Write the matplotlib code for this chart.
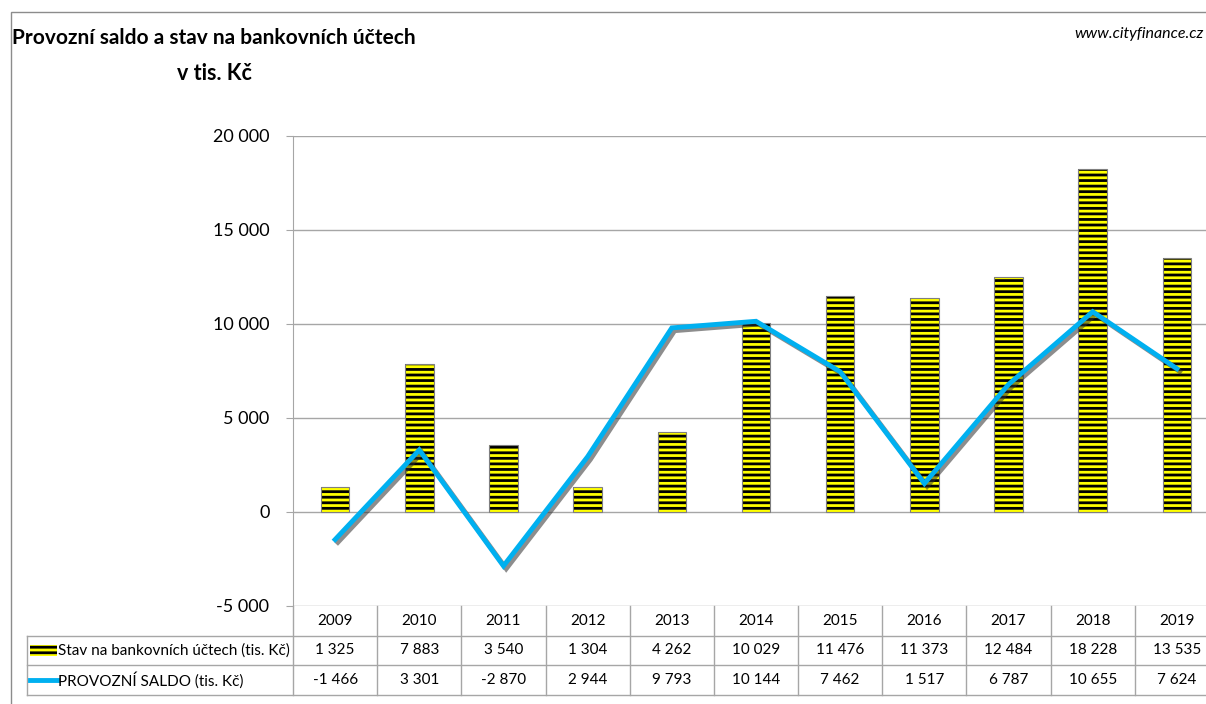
import matplotlib
matplotlib.use("Agg")
import matplotlib.pyplot as plt
import matplotlib.patheffects as pe
from matplotlib.patches import Rectangle
from matplotlib.ticker import FuncFormatter

years = ["2009", "2010", "2011", "2012", "2013", "2014", "2015", "2016", "2017", "2018", "2019"]
stav_uctu = [1325, 7883, 3540, 1304, 4262, 10029, 11476, 11373, 12484, 18228, 13535]
provozni_saldo = [-1466, 3301, -2870, 2944, 9793, 10144, 7462, 1517, 6787, 10655, 7624]
row_labels = ["Stav na bankovních účtech (tis. Kč)", "PROVOZNÍ SALDO (tis. Kč)"]

YELLOW = "#ffff00"
BLUE = "#00b0f0"
GRID = "#a6a6a6"

plt.rcParams["font.family"] = ["Lato", "DejaVu Sans"]
plt.rcParams["hatch.linewidth"] = 2.0

W, H = 1206, 704
fig = plt.figure(figsize=(W / 100, H / 100), dpi=100)

def fx(px):
    return px / W

def fy(py):
    return 1 - py / H

def fmt(v):
    return f"{int(v):,}".replace(",", " ")

# plot area in pixels (right edge runs past the figure border)
x0, x1 = 293, 1219
y_top, y_zero_row, y_bot = 136, 606, 695
col_w = (x1 - x0) / len(years)

ax = fig.add_axes([fx(x0), fy(y_zero_row), fx(x1 - x0), (y_zero_row - y_top) / H])
ax.set_xlim(-0.5, len(years) - 0.5)
ax.set_ylim(-5000, 20000)
ax.set_yticks(range(-5000, 20001, 5000))
ax.yaxis.set_major_formatter(FuncFormatter(lambda v, p: fmt(v)))
ax.tick_params(axis="y", length=5, color=GRID, labelsize=13, pad=12)
ax.set_xticks([])
for s in ["top", "right", "bottom"]:
    ax.spines[s].set_visible(False)
ax.spines["left"].set_color(GRID)
ax.grid(axis="y", color=GRID, linewidth=1)
ax.set_axisbelow(True)

xs = range(len(years))
ax.bar(xs, stav_uctu, width=0.34, color=YELLOW, edgecolor="black", linewidth=0,
       hatch="---", zorder=2)
ax.bar(xs, stav_uctu, width=0.34, fill=False, edgecolor="#7f7f7f", linewidth=0.8, zorder=3)

ax.plot(xs, provozni_saldo, color=BLUE, linewidth=3.5, solid_joinstyle="miter", zorder=4,
        path_effects=[pe.SimpleLineShadow(offset=(2, -2), shadow_color="#303030", alpha=0.55),
                      pe.Normal()])

# data table under the plot, sharing the category positions
tab = fig.add_axes([fx(x0), fy(y_bot), fx(x1 - x0), (y_bot - y_zero_row) / H])
tab.set_xlim(-0.5, len(years) - 0.5)
tab.set_ylim(3, 0)
tab.axis("off")
lab_left = -0.5 - (x0 - 27) / col_w

for r in [1, 2, 3]:
    tab.plot([lab_left, len(years) - 0.5], [r, r], color=GRID, lw=1, clip_on=False)
tab.plot([lab_left, lab_left], [1, 3], color=GRID, lw=1, clip_on=False)
for i in range(len(years) + 1):
    tab.plot([i - 0.5, i - 0.5], [0, 3], color=GRID, lw=1, clip_on=False)

for i, yr in enumerate(years):
    tab.text(i, 0.5, yr, ha="center", va="center", fontsize=11)
    tab.text(i, 1.5, fmt(stav_uctu[i]), ha="center", va="center", fontsize=11)
    tab.text(i, 2.5, fmt(provozni_saldo[i]), ha="center", va="center", fontsize=11)

# legend keys inside the table
key_l = lab_left + 3 / col_w
key_r = lab_left + 30 / col_w
tab.add_patch(Rectangle((key_l, 1.33), key_r - key_l, 0.36, facecolor=YELLOW, edgecolor="black",
                        linewidth=0, hatch="---", clip_on=False))
tab.plot([key_l, key_r], [2.5, 2.5], color=BLUE, lw=3.5, clip_on=False)
for r, lab in enumerate(row_labels):
    tab.text(key_r + 1 / col_w, 1.5 + r, lab, ha="left", va="center", fontsize=11)

# outer chart border
fig.add_artist(Rectangle((fx(11), -0.1), 2, fy(12) + 0.1, transform=fig.transFigure,
                         fill=False, edgecolor="#8c8c8c", linewidth=1))

fig.text(fx(12), fy(38), "Provozní saldo a stav na bankovních účtech", fontsize=15,
         fontweight="bold", ha="left", va="center")
fig.text(fx(214), fy(73), "v tis. Kč", fontsize=15.5, fontweight="bold", ha="center", va="center")
fig.text(fx(1204), fy(34), "www.cityfinance.cz", fontsize=11.5, style="italic", ha="right", va="center")

fig.savefig("out.png", dpi=100)
